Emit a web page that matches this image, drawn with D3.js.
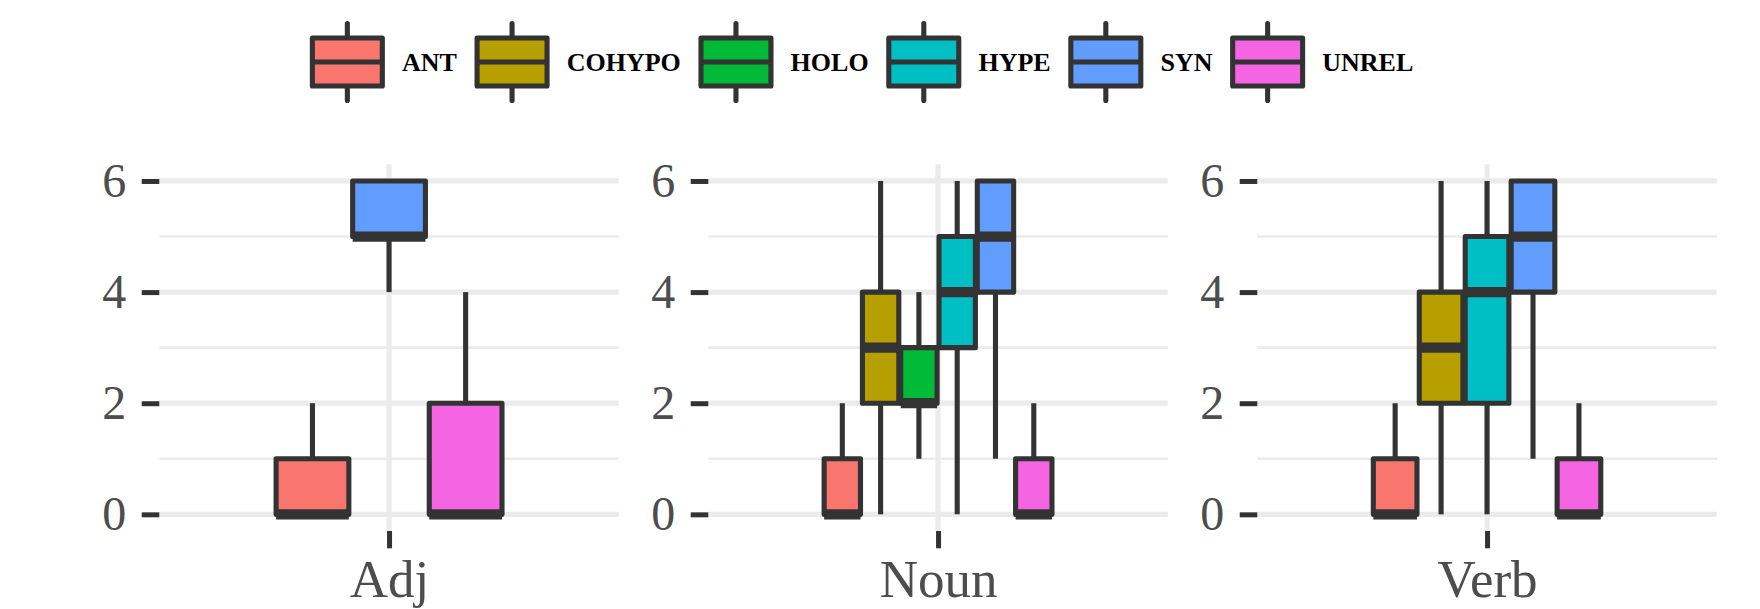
<!DOCTYPE html>
<html>
<head>
<meta charset="utf-8">
<script src="https://cdn.jsdelivr.net/npm/d3@7"></script>
<style>
  html, body { margin: 0; padding: 0; background: #ffffff; }
  svg { display: block; }
</style>
</head>
<body>
<svg id="chart" width="1760" height="609"></svg>
<script>
// ---------- data ----------
const relations = ["ANT", "COHYPO", "HOLO", "HYPE", "SYN", "UNREL"];
const relationColors = ["#F8766D", "#B79F00", "#00BA38", "#00BFC4", "#619CFF", "#F564E3"];
const panels = ["Adj", "Noun", "Verb"];
const yTicks = [0, 2, 4, 6];
const yMinorTicks = [1, 3, 5];

// stats per box: [lower whisker, Q1, median, Q3, upper whisker]
const adjRelations = ["ANT", "SYN", "UNREL"];
const adjStats = [[0, 0, 0, 1, 2], [4, 5, 5, 6, 6], [0, 0, 0, 2, 4]];

const nounRelations = ["ANT", "COHYPO", "HOLO", "HYPE", "SYN", "UNREL"];
const nounStats = [[0, 0, 0, 1, 2], [0, 2, 3, 4, 6], [1, 2, 2, 3, 4], [0, 3, 4, 5, 6], [1, 4, 5, 6, 6], [0, 0, 0, 1, 2]];

const verbRelations = ["ANT", "COHYPO", "HYPE", "SYN", "UNREL"];
const verbStats = [[0, 0, 0, 1, 2], [0, 2, 3, 4, 6], [0, 2, 4, 5, 6], [1, 4, 5, 6, 6], [0, 0, 0, 1, 2]];

const panelRelations = [adjRelations, nounRelations, verbRelations];
const panelStats = [adjStats, nounStats, verbStats];

// ---------- layout ----------
const svg = d3.select("#chart");
const color = d3.scaleOrdinal().domain(relations).range(relationColors);

const panelLeft0 = 159.3, panelWidth = 459.5, panelGap = 89.5;
const plotTop = 164.3, plotBottom = 531;
const lw = 5.1;
const dark = "#333333";
const grid = "#EBEBEB";
const axisFont = "'Liberation Serif', 'DejaVu Serif', serif";

const y = d3.scaleLinear().domain([-0.3, 6.3]).range([plotBottom, plotTop]);

panels.forEach((p, i) => {
  const left = panelLeft0 + i * (panelWidth + panelGap);
  const x = d3.scaleLinear().domain([0.4, 1.6]).range([left, left + panelWidth]);
  const g = svg.append("g");

  // grid
  g.selectAll(".minor").data(yMinorTicks).join("line")
    .attr("x1", left).attr("x2", left + panelWidth)
    .attr("y1", d => y(d)).attr("y2", d => y(d))
    .attr("stroke", grid).attr("stroke-width", 2.6);
  g.selectAll(".major").data(yTicks).join("line")
    .attr("x1", left).attr("x2", left + panelWidth)
    .attr("y1", d => y(d)).attr("y2", d => y(d))
    .attr("stroke", grid).attr("stroke-width", 5.2);
  g.append("line")
    .attr("x1", x(1)).attr("x2", x(1))
    .attr("y1", plotTop).attr("y2", plotBottom)
    .attr("stroke", grid).attr("stroke-width", 5.2);

  // y axis
  const ya = g.append("g").attr("transform", `translate(${left},0)`)
    .call(d3.axisLeft(y).tickValues(yTicks).tickFormat(d3.format("d")).tickSize(17.6).tickPadding(15.5));
  ya.select(".domain").remove();
  ya.selectAll(".tick line").attr("stroke", dark).attr("stroke-width", 5);
  ya.selectAll(".tick text").attr("fill", "#4D4D4D")
    .style("font-family", axisFont).style("font-size", "48px");

  // x axis
  const xp = d3.scalePoint().domain([p]).range([x(1), x(1)]);
  const xa = g.append("g").attr("transform", `translate(0,${plotBottom})`)
    .call(d3.axisBottom(xp).tickSize(17.3).tickPadding(11.5));
  xa.select(".domain").remove();
  xa.selectAll(".tick line").attr("stroke", dark).attr("stroke-width", 5);
  xa.selectAll(".tick text").attr("fill", "#4D4D4D")
    .style("font-family", axisFont).style("font-size", "53px");

  // boxes (dodged)
  const rels = panelRelations[i];
  const stats = panelStats[i];
  const band = d3.scaleBand().domain(rels).range([x(0.7), x(1.3)]).padding(0);
  const bw = band.bandwidth() * 0.95;
  rels.forEach((r, j) => {
    const s = stats[j];
    const cx = band(r) + band.bandwidth() / 2;
    const bg = g.append("g");
    bg.append("line").attr("x1", cx).attr("x2", cx)
      .attr("y1", y(s[3])).attr("y2", y(s[4]))
      .attr("stroke", dark).attr("stroke-width", lw);
    bg.append("line").attr("x1", cx).attr("x2", cx)
      .attr("y1", y(s[1])).attr("y2", y(s[0]))
      .attr("stroke", dark).attr("stroke-width", lw);
    bg.append("rect")
      .attr("x", cx - bw / 2).attr("width", bw)
      .attr("y", y(s[3])).attr("height", y(s[1]) - y(s[3]))
      .attr("fill", color(r)).attr("stroke", dark).attr("stroke-width", lw)
      .attr("stroke-linejoin", "round");
    bg.append("line").attr("x1", cx - bw / 2).attr("x2", cx + bw / 2)
      .attr("y1", y(s[2])).attr("y2", y(s[2]))
      .attr("stroke", dark).attr("stroke-width", lw * 2);
  });
});

// ---------- legend ----------
const keyW = 93.3, keyH = 96, legendCY = 62, textGap = 8, itemGap = 8.5;
const legend = svg.append("g");
let cursor = 0;
relations.forEach(r => {
  const it = legend.append("g");
  const kx = cursor;
  it.append("line").attr("x1", kx + keyW / 2).attr("x2", kx + keyW / 2)
    .attr("y1", legendCY - keyH * 0.4).attr("y2", legendCY - keyH * 0.25)
    .attr("stroke", dark).attr("stroke-width", lw).attr("stroke-linecap", "round");
  it.append("line").attr("x1", kx + keyW / 2).attr("x2", kx + keyW / 2)
    .attr("y1", legendCY + keyH * 0.25).attr("y2", legendCY + keyH * 0.4)
    .attr("stroke", dark).attr("stroke-width", lw).attr("stroke-linecap", "round");
  it.append("rect").attr("x", kx + keyW * 0.125).attr("width", keyW * 0.75)
    .attr("y", legendCY - keyH * 0.25).attr("height", keyH * 0.5)
    .attr("fill", color(r)).attr("stroke", dark).attr("stroke-width", lw)
    .attr("stroke-linejoin", "round");
  it.append("line").attr("x1", kx + keyW * 0.125).attr("x2", kx + keyW * 0.875)
    .attr("y1", legendCY).attr("y2", legendCY)
    .attr("stroke", dark).attr("stroke-width", lw);
  const t = it.append("text").attr("x", kx + keyW + textGap).attr("y", legendCY + 9)
    .style("font-family", axisFont).style("font-weight", "bold").style("font-size", "26px")
    .attr("fill", "#000000").text(r);
  const tw = t.node().getComputedTextLength();
  cursor = kx + keyW + textGap + tw + itemGap;
});
const legendWidth = cursor - itemGap;
legend.attr("transform", `translate(${857 - legendWidth / 2},0)`);
</script>
</body>
</html>
